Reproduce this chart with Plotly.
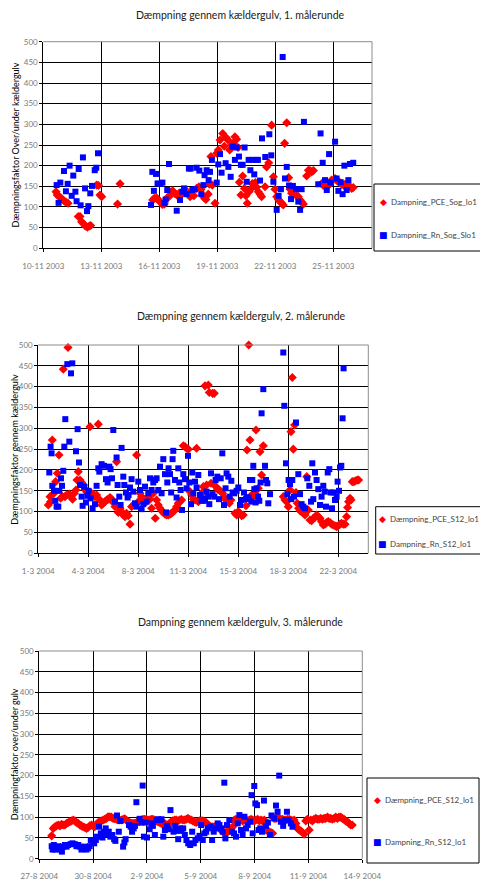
import pandas as pd
import plotly.graph_objects as go

PAGE_W, PAGE_H = 488, 891
OFF = 8  # default body margin of the written html page
W, H = PAGE_W - 2 * OFF, PAGE_H - 2 * OFF

# ---------------- data (day offsets from round start, values) ----------------
r1_start = "2003-11-10"
r1_pce_days = [0.66, 0.72, 0.83, 0.91, 1.0, 1.09, 1.17, 1.28,
               1.81, 1.9, 1.98, 2.07, 2.17, 2.28, 2.38, 2.45,
               2.76, 2.86, 2.93, 3.02, 3.84, 3.97,
               5.66, 5.74, 5.86, 5.95, 6.03, 6.16, 6.26, 6.38, 6.5, 6.59,
               6.69, 6.78, 6.9, 7.02, 7.12, 7.24, 7.36, 7.47, 7.59, 7.69,
               7.79, 7.93, 8.05, 8.16, 8.24, 8.33, 8.41, 8.53, 8.59, 8.67,
               8.74, 8.88, 8.97, 9.05, 9.14, 9.28, 9.36, 9.45, 9.55, 9.64,
               9.74, 9.83, 9.91, 10.0, 10.07, 10.14, 10.22, 10.31, 10.4, 10.48,
               10.55, 10.64, 10.72, 10.81, 10.9, 10.97, 11.03, 11.12, 11.21, 11.29,
               11.47, 11.55, 11.66, 11.81, 11.9, 11.98, 12.07, 12.16, 12.24, 12.33,
               12.41, 12.48, 12.59, 12.69, 12.76, 12.84, 12.93, 13.1, 13.19, 13.28,
               13.36, 13.45, 13.62, 13.71, 13.79, 13.88, 13.97, 14.4, 14.48, 14.57,
               14.66, 14.74, 14.83, 14.91, 15.09, 15.17, 15.26, 15.34, 15.43, 15.52,
               15.6, 15.69, 15.78, 15.86, 15.95, 16.03]
r1_pce_vals = [137, 129, 125, 122, 118, 114, 112, 109,
               77, 77, 64, 60, 54, 51, 54, 55,
               153, 152, 129, 125, 107, 156,
               117, 121, 122, 117, 113, 106, 107, 121, 125, 135,
               139, 133, 129, 133, 129, 137, 141, 133, 125, 129,
               127, 145, 149, 143, 129, 122, 118, 131, 155, 222,
               153, 109, 230, 238, 262, 278, 247, 268, 262, 238,
               250, 254, 270, 264, 244, 160, 129, 175, 145, 127,
               109, 137, 143, 157, 151, 159, 148, 137, 131, 125,
               149, 197, 207, 298, 173, 143, 125, 118, 113, 109,
               105, 254, 304, 171, 143, 133, 129, 127, 125, 117,
               112, 107, 175, 189, 188, 185, 188, 157, 152, 155,
               153, 152, 157, 165, 169, 165, 161, 159, 155, 153,
               155, 155, 153, 149, 145, 147]
r1_rn_days = [0.69, 0.79, 0.88, 1.07, 1.17, 1.26, 1.36, 1.47, 1.55, 1.66,
              1.72, 1.83, 1.93, 2.05, 2.16, 2.26, 2.33, 2.43, 2.52, 2.66,
              2.74, 2.83,
              5.57, 5.64, 5.72, 5.83, 5.91, 6.05, 6.16, 6.26, 6.33, 6.41,
              6.5, 6.9, 7.07, 7.19, 7.28, 7.41, 7.53, 7.62, 7.71, 7.83,
              7.93, 8.07, 8.17, 8.28, 8.34, 8.45, 8.55, 8.62, 8.72, 8.97,
              9.05, 9.14, 9.22, 9.43, 9.57, 9.69, 9.79, 9.91, 10.0, 10.12,
              10.22, 10.31, 10.41, 10.52, 10.62, 10.71, 10.81, 10.91, 11.0, 11.1,
              11.21, 11.31, 11.48, 11.69, 11.79, 11.9, 12.07, 12.17, 12.29, 12.38,
              12.5, 12.59, 12.71, 12.81, 12.91, 13.07, 13.19, 13.28, 13.36, 13.48,
              14.22, 14.34, 14.45, 14.57, 14.66, 14.78, 14.86, 15.09, 15.17, 15.26,
              15.38, 15.48, 15.57, 15.69, 15.78, 15.86, 16.03]
r1_rn_vals = [153, 110, 159, 187, 138, 156, 200, 127, 176, 137,
              114, 192, 104, 220, 145, 90, 102, 133, 151, 189,
              195, 230,
              105, 185, 139, 180, 157, 156, 159, 109, 118, 141,
              204, 91, 117, 137, 145, 131, 193, 193, 141, 143,
              195, 188, 131, 153, 177, 189, 165, 185, 214, 159,
              203, 228, 183, 206, 197, 173, 246, 214, 244, 222,
              202, 202, 244, 161, 214, 189, 214, 179, 214, 214,
              164, 266, 221, 276, 225, 161, 93, 127, 143, 463,
              169, 197, 152, 119, 151, 143, 113, 93, 143, 306,
              155, 278, 207, 165, 141, 228, 159, 258, 169, 139,
              160, 131, 200, 141, 165, 204, 207]

r2_start = "2004-03-01"
r2_pce_days = [0.7, 0.82, 0.86, 0.98, 1.1, 1.21, 1.33, 1.45, 1.56, 1.68,
               1.75, 1.87, 1.98, 2.08, 2.17, 2.29, 2.4, 2.52, 2.64, 2.71,
               2.8, 2.92, 3.03, 3.15, 3.27, 3.38, 3.5, 3.62, 3.73, 3.85,
               3.97, 4.08, 4.2, 4.32, 4.43, 4.55, 4.67, 4.78, 4.9, 5.02,
               5.13, 5.25, 5.37, 5.48, 5.6, 5.72, 5.83, 5.95, 6.07, 6.18,
               6.3, 6.42, 6.53, 6.65, 6.88, 7.0, 7.12, 7.23, 7.35, 7.47,
               7.58, 7.7, 7.82, 7.93, 8.05, 8.19, 8.28, 8.4, 8.52, 8.63,
               8.75, 8.87, 8.98, 9.1, 9.22, 9.33, 9.45, 9.57, 9.68, 9.8,
               9.92, 10.03, 10.15, 10.27, 10.38, 10.5, 10.62, 10.73, 10.85, 10.97,
               11.08, 11.2, 11.32, 11.43, 11.55, 11.67, 11.78, 11.9, 11.97, 12.09,
               12.2, 12.32, 12.44, 12.55, 12.67, 12.79, 12.9, 13.02, 13.14, 13.25,
               13.37, 13.49, 13.77, 13.88, 14.0, 14.12, 14.23, 14.35, 14.54, 14.61,
               14.73, 14.82, 14.93, 15.05, 15.17, 15.24, 15.4, 15.52, 15.63, 15.75,
               17.15, 17.27, 17.38, 17.5, 17.62, 17.69, 17.78, 17.85, 17.94, 18.04,
               18.13, 18.22, 18.32, 18.43, 18.55, 18.67, 18.79, 18.9, 19.02, 19.13,
               19.25, 19.37, 19.48, 19.6, 19.72, 19.83, 19.95, 20.07, 20.18, 20.3,
               20.42, 20.53, 20.65, 20.77, 20.88, 21.0, 21.12, 21.23, 21.35, 21.47,
               21.58, 21.65, 21.72, 21.82, 21.89, 21.98, 22.1, 22.21, 22.33, 22.42]
r2_pce_vals = [116, 136, 124, 272, 144, 172, 192, 236, 132, 136,
               442, 136, 140, 494, 142, 136, 130, 144, 152, 176,
               196, 176, 170, 164, 154, 148, 144, 304, 144, 142,
               136, 140, 310, 128, 116, 120, 124, 128, 130, 134,
               130, 122, 112, 220, 98, 108, 100, 92, 88, 96,
               90, 70, 112, 116, 236, 124, 144, 136, 130, 128,
               124, 136, 130, 108, 144, 84, 128, 116, 108, 102,
               98, 94, 92, 92, 94, 96, 100, 104, 112, 120,
               124, 128, 258, 256, 252, 250, 148, 140, 130, 128,
               252, 124, 128, 144, 160, 402, 164, 404, 386, 168,
               384, 384, 160, 154, 152, 148, 144, 134, 128, 124,
               120, 128, 96, 92, 100, 96, 90, 92, 114, 248,
               500, 272, 140, 138, 144, 296, 156, 244, 188, 258,
               136, 128, 124, 112, 152, 292, 422, 250, 308, 146,
               120, 108, 102, 100, 96, 92, 184, 104, 80, 78,
               84, 86, 92, 88, 84, 76, 68, 70, 74, 76,
               74, 70, 68, 66, 64, 66, 70, 72, 70, 70,
               88, 110, 124, 132, 128, 172, 172, 174, 176, 176]
r2_rn_days = [0.77, 0.86, 0.93, 0.98, 1.1, 1.19, 1.28, 1.4, 1.47, 1.59,
              1.66, 1.75, 1.82, 1.89, 2.03, 2.17, 2.29, 2.38, 2.64, 2.75,
              2.85, 2.92, 3.03, 3.1, 3.22, 3.34, 3.43, 3.52, 3.66, 3.8,
              3.97, 4.08, 4.2, 4.27, 4.43, 4.6, 4.74, 4.85, 4.97, 5.06,
              5.16, 5.25, 5.37, 5.48, 5.55, 5.67, 5.76, 5.83, 5.95, 6.02,
              6.14, 6.25, 6.32, 6.42, 6.53, 6.65, 6.77, 6.88, 7.0, 7.12,
              7.23, 7.35, 7.47, 7.58, 7.7, 7.82, 7.93, 8.05, 8.17, 8.28,
              8.4, 8.52, 8.63, 8.75, 8.87, 8.94, 9.03, 9.12, 9.22, 9.3,
              9.4, 9.45, 9.57, 9.68, 9.8, 9.87, 9.96, 10.06, 10.15, 10.27,
              10.38, 10.48, 10.57, 10.69, 10.78, 10.85, 10.97, 11.08, 11.2, 11.32,
              11.43, 11.55, 11.67, 11.78, 11.9, 11.97, 12.09, 12.2, 12.32, 12.41,
              12.53, 12.65, 12.77, 12.88, 13.0, 13.11, 13.18, 13.3, 13.39, 13.51,
              13.6, 13.72, 13.88, 14.0, 14.12, 14.23, 14.4, 14.54, 14.61, 14.73,
              14.82, 14.91, 14.98, 15.05, 15.12, 15.21, 15.28, 15.38, 15.47, 15.56,
              15.63, 15.75, 15.87, 15.94, 16.03, 16.1, 16.22, 17.15, 17.22, 17.34,
              17.43, 17.52, 17.62, 17.71, 17.78, 17.9, 18.04, 18.2, 18.32, 18.43,
              18.55, 18.67, 18.83, 18.97, 19.09, 19.18, 19.25, 19.37, 19.48, 19.6,
              19.72, 19.83, 19.95, 20.05, 20.14, 20.26, 20.37, 20.46, 20.56, 20.65,
              20.77, 20.88, 20.95, 21.05, 21.12, 21.21, 21.3, 21.37]
r2_rn_vals = [194, 256, 240, 162, 150, 126, 112, 112, 150, 180,
              162, 198, 256, 322, 454, 268, 432, 456, 245, 298,
              218, 164, 136, 114, 160, 122, 138, 150, 132, 108,
              118, 162, 204, 196, 214, 210, 178, 170, 208, 202,
              180, 296, 124, 230, 164, 136, 116, 253, 184, 164,
              146, 134, 140, 158, 178, 148, 120, 112, 172, 152,
              106, 118, 160, 124, 144, 180, 152, 170, 176, 180,
              152, 208, 144, 226, 190, 98, 170, 204, 190, 146,
              226, 246, 176, 134, 204, 170, 152, 104, 190, 178,
              156, 234, 170, 118, 194, 144, 172, 158, 188, 140,
              126, 132, 126, 148, 136, 118, 192, 142, 136, 176,
              184, 130, 180, 240, 116, 156, 192, 184, 136, 174,
              146, 144, 150, 158, 116, 128, 146, 130, 134, 134,
              176, 124, 176, 210, 154, 122, 156, 136, 126, 170,
              336, 394, 210, 176, 168, 120, 142, 482, 354, 216,
              142, 176, 166, 130, 176, 136, 314, 190, 142, 118,
              112, 108, 180, 162, 124, 216, 130, 194, 176, 154,
              116, 136, 162, 148, 112, 194, 202, 146, 108, 146,
              128, 136, 172, 150, 206, 210, 324, 444]

r3_start = "2004-08-27"
r3_pce_days = [0.69, 0.78, 0.87, 0.96, 1.06, 1.15, 1.24, 1.33, 1.43, 1.52,
               1.61, 1.7, 1.8, 1.89, 1.98, 2.07, 2.17, 2.26, 2.35, 2.44,
               2.54, 2.63, 2.72, 2.81, 2.91, 3.0, 3.09, 3.19, 3.28, 3.37,
               3.46, 3.56, 3.65, 3.74, 3.83, 3.93, 4.02, 4.11, 4.2, 4.3,
               4.39, 4.48, 4.57, 4.67, 4.76, 4.85, 4.94, 5.04, 5.13, 5.22,
               5.31, 5.41, 5.5, 5.59, 5.69, 5.78, 5.87, 5.96, 6.06, 6.15,
               6.24, 6.33, 6.43, 6.52, 6.61, 6.7, 6.8, 6.89, 6.98, 7.07,
               7.17, 7.26, 7.35, 7.44, 7.54, 7.63, 7.72, 7.81, 7.91, 8.0,
               8.09, 8.19, 8.28, 8.37, 8.46, 8.56, 8.65, 8.74, 8.83, 8.93,
               9.02, 9.11, 9.2, 9.3, 9.39, 9.48, 9.57, 9.67, 9.76, 9.85,
               9.94, 10.04, 10.13, 10.22, 10.31, 10.41, 10.5, 10.59, 10.69, 10.78,
               10.87, 10.96, 11.06, 11.15, 11.24, 11.33, 11.43, 11.52, 11.61, 11.7,
               11.8, 11.89, 11.98, 12.07, 12.17, 12.26, 12.35, 12.44, 12.54, 12.63,
               12.72, 12.81, 12.91, 13.0, 13.09, 13.19, 13.28, 13.37, 13.46, 13.56,
               13.65, 13.74, 13.83, 13.93, 14.02, 14.11, 14.2, 14.3, 14.39, 14.48,
               14.57, 14.67, 14.76, 14.85, 14.94, 15.04, 15.13, 15.22, 15.31, 15.41,
               15.5, 15.59, 15.69, 15.78, 15.87, 15.96, 16.06, 16.15, 16.24, 16.33,
               16.43, 16.52, 16.61, 16.7, 16.8, 16.89, 16.98, 17.07, 17.17, 17.26,
               17.35, 17.44]
r3_pce_vals = [55, 73, 77, 79, 81, 79, 83, 81, 81, 85,
               87, 89, 91, 93, 91, 87, 85, 81, 79, 77,
               75, 73, 75, 79, 81, 79, 77, 83, 87, 89,
               91, 93, 95, 97, 101, 101, 100, 97, 96, 95,
               93, 93, 93, 95, 96, 93, 89, 87, 85, 85,
               85, 87, 89, 89, 93, 95, 95, 95, 93, 93,
               95, 95, 93, 91, 89, 87, 85, 83, 85, 81,
               81, 85, 89, 91, 93, 93, 91, 93, 95, 93,
               93, 95, 97, 95, 93, 91, 89, 87, 89, 91,
               91, 91, 89, 87, 81, 79, 77, 77, 77, 79,
               77, 73, 69, 65, 63, 63, 65, 69, 73, 77,
               93, 95, 95, 95, 93, 91, 93, 93, 91, 93,
               95, 93, 91, 93, 95, 91, 93, 91, 93, 69,
               67, 65, 63, 61, 97, 97, 100, 97, 95, 95,
               93, 93, 95, 95, 93, 91, 93, 85, 73, 69,
               67, 63, 59, 91, 95, 69, 93, 91, 95, 97,
               95, 95, 97, 95, 97, 97, 100, 97, 97, 95,
               97, 100, 97, 100, 100, 97, 95, 91, 89, 85,
               81, 81]
r3_rn_days = [0.69, 0.74, 0.81, 0.89, 0.96, 1.06, 1.15, 1.26, 1.33, 1.43,
              1.52, 1.61, 1.74, 1.85, 1.98, 2.07, 2.17, 2.26, 2.35, 2.44,
              2.54, 2.63, 2.72, 2.81, 2.87, 2.96, 3.06, 3.15, 3.22, 3.33,
              3.43, 3.52, 3.61, 3.7, 3.78, 3.87, 3.96, 4.07, 4.17, 4.24,
              4.33, 4.43, 4.52, 4.67, 4.74, 4.81, 5.0, 5.09, 5.17, 5.26,
              5.33, 5.41, 5.59, 5.69, 5.76, 5.83, 5.91, 6.0, 6.15, 6.24,
              6.33, 6.44, 6.54, 6.63, 6.72, 6.81, 6.91, 7.0, 7.11, 7.22,
              7.31, 7.48, 7.57, 7.65, 7.74, 7.83, 7.93, 8.02, 8.11, 8.2,
              8.3, 8.41, 8.52, 8.61, 8.7, 8.83, 8.93, 9.02, 9.11, 9.2,
              9.3, 9.39, 9.54, 9.63, 9.72, 9.85, 9.94, 10.04, 10.13, 10.22,
              10.31, 10.37, 10.46, 10.59, 10.74, 10.85, 10.96, 11.06, 11.15, 11.24,
              11.33, 11.43, 11.52, 11.61, 11.74, 11.83, 11.89, 11.98, 12.04, 12.13,
              12.22, 12.31, 12.41, 12.52, 12.63, 12.74, 12.85, 12.94, 13.09, 13.19,
              13.28, 13.37, 13.46, 13.59, 13.7, 13.8, 13.89, 14.02, 14.11]
r3_rn_vals = [30, 22, 33, 22, 27, 30, 22, 17, 29, 33,
              29, 33, 35, 37, 35, 30, 33, 29, 22, 27,
              29, 22, 25, 30, 45, 43, 37, 45, 53, 77,
              61, 51, 65, 73, 59, 65, 53, 57, 47, 43,
              104, 65, 91, 29, 39, 47, 81, 77, 65, 73,
              79, 136, 96, 87, 176, 53, 87, 51, 71, 85,
              79, 57, 93, 95, 93, 95, 53, 69, 79, 71,
              117, 65, 79, 67, 47, 73, 67, 73, 57, 45,
              37, 33, 65, 37, 45, 49, 55, 81, 45, 61,
              65, 73, 77, 45, 65, 73, 85, 81, 73, 65,
              183, 49, 81, 93, 65, 61, 53, 85, 105, 69,
              59, 101, 73, 81, 89, 153, 61, 175, 133, 129,
              69, 73, 65, 140, 79, 87, 57, 104, 97, 128,
              113, 200, 89, 79, 93, 113, 93, 85, 77]

# axis ranges / ticks
r1_range = ["2003-11-10", "2003-11-27"]
r1_tickvals = ["2003-11-10", "2003-11-13", "2003-11-16", "2003-11-19", "2003-11-22", "2003-11-25"]
r1_ticktext = ["10-11 2003", "13-11 2003", "16-11 2003", "19-11 2003", "22-11 2003", "25-11 2003"]
r2_range = ["2004-03-01", "2004-03-24 02:24"]
r2_tickvals = ["2004-03-01", "2004-03-04 12:00", "2004-03-08", "2004-03-11 12:00",
               "2004-03-15", "2004-03-18 12:00", "2004-03-22"]
r2_ticktext = ["1-3 2004", "4-3 2004", "8-3 2004", "11-3 2004", "15-3 2004", "18-3 2004", "22-3 2004"]
r3_range = ["2004-08-27", "2004-09-14"]
r3_tickvals = ["2004-08-27", "2004-08-30", "2004-09-02", "2004-09-05", "2004-09-08", "2004-09-11", "2004-09-14"]
r3_ticktext = ["27-8 2004", "30-8 2004", "2-9 2004", "5-9 2004", "8-9 2004", "11-9 2004", "14-9 2004"]

titles = ["Dæmpning gennem kældergulv, 1. målerunde",
          "Dæmpning gennem kældergulv, 2. målerunde",
          "Dampning gennem kældergulv, 3. målerunde"]
ytitles = ["Dæmpningsfaktor Over/under kældergulv",
           "Dæmpningsfaktor gennem kældergulv",
           "Dæmpningfaktor over/under gulv"]
legend_names = [("Dampning_PCE_Sog_lo1", "Dampning_Rn_Sog_Slo1"),
                ("Dæmpning_PCE_S12_lo1", "Dampning_Rn_S12_lo1"),
                ("Dæmpning_PCE_S12_lo1", "Dampning_Rn_S12_lo1")]

# ---------------- layout geometry (page pixels) ----------------
plots_px = [  # x0, x1, ytop, ybottom
    (43.3, 372.0, 41.7, 248.3),
    (38.3, 368.3, 345.0, 553.3),
    (39.3, 362.3, 651.0, 858.7),
]
title_px = [(240, 15), (241, 316), (240, 622)]
ytitle_x = [14.5, 14.5, 14.5]
legend_px = [  # box x0, x1, y0, y1, symbol x, text x, row1 y, row2 y
    (374.0, 486.0, 184.0, 251.0, 383, 389, 202, 235),
    (375.7, 483.0, 506.7, 554.0, 382, 388, 519, 544),
    (367.0, 479.0, 778.0, 863.0, 377, 383, 800, 842),
]

FONT = "Lato"
RED = "#FF0000"
BLUE = "#0000FF"
TICKGRAY = "#7a7a7a"

def px_x(p):
    return (p - OFF) / W

def px_y(p):
    return 1 - (p - OFF) / H

def dates(start, days):
    return pd.Timestamp(start) + pd.to_timedelta(days, unit="D")

fig = go.Figure()

series = [
    (r1_start, r1_pce_days, r1_pce_vals, r1_rn_days, r1_rn_vals),
    (r2_start, r2_pce_days, r2_pce_vals, r2_rn_days, r2_rn_vals),
    (r3_start, r3_pce_days, r3_pce_vals, r3_rn_days, r3_rn_vals),
]
ranges = [r1_range, r2_range, r3_range]
tvals = [r1_tickvals, r2_tickvals, r3_tickvals]
ttext = [r1_ticktext, r2_ticktext, r3_ticktext]

annotations = []
shapes = []
for i, (start, pd_, pv, rd, rv) in enumerate(series):
    n = "" if i == 0 else str(i + 1)
    xa, ya = "x" + n, "y" + n
    fig.add_trace(go.Scatter(x=dates(start, pd_), y=pv, mode="markers", name=legend_names[i][0],
                             xaxis=xa, yaxis=ya, cliponaxis=False, showlegend=False,
                             marker=dict(symbol="diamond", size=7, color=RED, line=dict(width=0))))
    fig.add_trace(go.Scatter(x=dates(start, rd), y=rv, mode="markers", name=legend_names[i][1],
                             xaxis=xa, yaxis=ya, cliponaxis=False, showlegend=False,
                             marker=dict(symbol="square", size=6, color=BLUE, line=dict(width=0))))
    x0, x1, yt, yb = plots_px[i]
    fig.layout["xaxis" + n] = dict(
        domain=[px_x(x0), px_x(x1)], anchor=ya, type="date", range=ranges[i],
        tickmode="array", tickvals=tvals[i], ticktext=ttext[i], automargin=False,
        showgrid=True, gridcolor="black", gridwidth=1, zeroline=False,
        showline=True, linecolor="black", linewidth=1,
        ticks="outside", ticklen=3, tickcolor="black", ticklabelstandoff=7,
        tickfont=dict(family=FONT, size=8, color=TICKGRAY), fixedrange=True)
    fig.layout["yaxis" + n] = dict(
        domain=[px_y(yb), px_y(yt)], anchor=xa, range=[0, 500], dtick=50, tick0=0,
        automargin=False,
        showgrid=True, gridcolor="black", gridwidth=1, zeroline=False,
        showline=True, linecolor="black", linewidth=1,
        ticks="outside", ticklen=3, tickcolor="black",
        tickfont=dict(family=FONT, size=8, color=TICKGRAY),
        fixedrange=True)
    # y-axis title
    annotations.append(dict(text=ytitles[i], x=px_x(ytitle_x[i]), y=px_y((yt + yb) / 2),
                            xref="paper", yref="paper", showarrow=False, textangle=-90,
                            xanchor="center", yanchor="middle",
                            font=dict(family=FONT, size=9, color="black")))
    # grey top/right frame
    shapes.append(dict(type="line", xref=xa + " domain", yref=ya + " domain",
                       x0=0, x1=1, y0=1, y1=1, line=dict(color="#8c8c8c", width=1), layer="above"))
    shapes.append(dict(type="line", xref=xa + " domain", yref=ya + " domain",
                       x0=1, x1=1, y0=0, y1=1, line=dict(color="#8c8c8c", width=1), layer="above"))
    # title
    tx, ty = title_px[i]
    annotations.append(dict(text=titles[i], x=px_x(tx), y=px_y(ty), xref="paper", yref="paper",
                            showarrow=False, xanchor="center", yanchor="middle",
                            font=dict(family=FONT, size=10.5, color="#1a1a1a")))
    # legend box
    bx0, bx1, by0, by1, sx, txx, ry1, ry2 = legend_px[i]
    shapes.append(dict(type="rect", xref="paper", yref="paper",
                       x0=px_x(bx0), x1=px_x(bx1), y0=px_y(by1), y1=px_y(by0),
                       line=dict(color="black", width=1), fillcolor="white"))
    for sym, col, ry, label in (("◆", RED, ry1, legend_names[i][0]), ("■", BLUE, ry2, legend_names[i][1])):
        annotations.append(dict(text=sym, x=px_x(sx), y=px_y(ry), xref="paper", yref="paper",
                                showarrow=False, xanchor="center", yanchor="middle",
                                font=dict(family="DejaVu Sans", size=9, color=col)))
        annotations.append(dict(text=label, x=px_x(txx), y=px_y(ry), xref="paper", yref="paper",
                                showarrow=False, xanchor="left", yanchor="middle",
                                font=dict(family=FONT, size=8, color="#444444")))

fig.update_layout(width=W, height=H, margin=dict(l=0, r=0, t=0, b=0),
                  paper_bgcolor="white", plot_bgcolor="white",
                  showlegend=False, annotations=annotations, shapes=shapes,
                  font=dict(family=FONT))

fig.write_html("out.html")
